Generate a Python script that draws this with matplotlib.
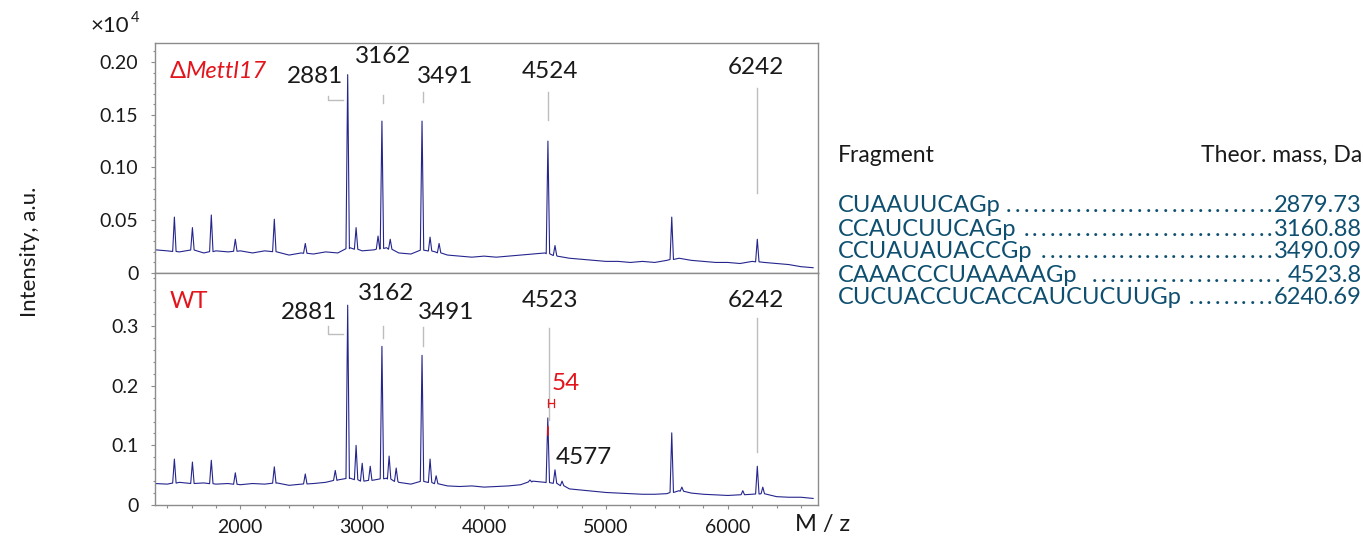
import numpy as np
import matplotlib.pyplot as plt
from matplotlib.ticker import MultipleLocator

plt.rcParams['font.family'] = ['Lato', 'DejaVu Sans']

base_mz = list(range(1300, 6800, 100))
base_ko = [0.022, 0.021, 0.020, 0.022, 0.019, 0.021, 0.020, 0.021, 0.019, 0.021,
           0.020, 0.017, 0.019, 0.018, 0.020, 0.019, 0.024, 0.021, 0.022, 0.024,
           0.019, 0.018, 0.022, 0.020, 0.017, 0.016, 0.015, 0.016, 0.015, 0.016,
           0.017, 0.018, 0.019, 0.016, 0.014, 0.013, 0.012, 0.011, 0.011, 0.010,
           0.011, 0.010, 0.012, 0.014, 0.012, 0.011, 0.010, 0.010, 0.009, 0.011,
           0.010, 0.009, 0.008, 0.006, 0.005]
base_wt = [0.036, 0.035, 0.038, 0.036, 0.037, 0.035, 0.036, 0.034, 0.036, 0.035,
           0.037, 0.033, 0.035, 0.036, 0.038, 0.042, 0.045, 0.040, 0.042, 0.045,
           0.038, 0.035, 0.040, 0.036, 0.032, 0.031, 0.032, 0.030, 0.031, 0.032,
           0.034, 0.040, 0.038, 0.036, 0.027, 0.025, 0.023, 0.021, 0.020, 0.019,
           0.018, 0.018, 0.019, 0.024, 0.020, 0.018, 0.017, 0.016, 0.017, 0.018,
           0.019, 0.014, 0.013, 0.013, 0.011]

# peaks (m/z, intensity x10^4)
peaks_ko_mz = [1459, 1607, 1762, 1959, 2279, 2533, 2881, 2950, 3130, 3162, 3230,
               3491, 3557, 3631, 4524, 4582, 5540, 6242]
peaks_ko_h = [0.053, 0.043, 0.055, 0.032, 0.051, 0.028, 0.188, 0.043, 0.035, 0.144,
              0.032, 0.144, 0.034, 0.028, 0.125, 0.026, 0.053, 0.032]
peaks_wt_mz = [1459, 1607, 1762, 1959, 2279, 2533, 2779, 2881, 2950, 3000, 3066,
               3162, 3221, 3279, 3491, 3557, 3607, 4377, 4523, 4582, 4640, 5540,
               5623, 6123, 6242, 6287]
peaks_wt_h = [0.077, 0.072, 0.075, 0.054, 0.064, 0.052, 0.058, 0.335, 0.100, 0.070,
              0.065, 0.266, 0.082, 0.062, 0.251, 0.077, 0.049, 0.042, 0.146, 0.059,
              0.040, 0.121, 0.030, 0.024, 0.065, 0.030]

labels_ko = ['2881', '3162', '3491', '4524', '6242']
labels_wt = ['2881', '3162', '3491', '4523', '6242']

fragments = ['CUAAUUCAGp', 'CCAUCUUCAGp', 'CCUAUAUACCGp', 'CAAACCCUAAAAAGp',
             'CUCUACCUCACCAUCUCUUGp']
masses = ['2879.73', '3160.88', '3490.09', '4523.8', '6240.69']

W, H = 1363, 538
LINE = '#25258e'
GRAY = '#8c8c8c'
ANN = '#bdbdbd'
RED = '#e3141b'
BLUE = '#0e4f70'
INK = '#1a1a1a'


def fx(px):
    return px / W


def fy(py):
    return 1 - py / H


def trace(bvals, pmz, ph, half=14):
    bx = np.array(base_mz, float)
    by = np.array(bvals, float)
    keep = [all(abs(x - m) > half for m in pmz) for x in bx]
    xs = list(bx[keep])
    ys = list(by[keep])
    for m, h in zip(pmz, ph):
        foot = np.interp(m, bx, by)
        xs += [m - half, m, m + half]
        ys += [foot, h, foot]
    order = np.argsort(xs, kind='stable')
    return np.array(xs)[order], np.array(ys)[order]


fig = plt.figure(figsize=(W / 100, H / 100), dpi=100)
ax1 = fig.add_axes([fx(155), 1 - 273 / H, 663 / W, 230 / H])
ax2 = fig.add_axes([fx(155), 1 - 505 / H, 663 / W, 232 / H])

x, y = trace(base_ko, peaks_ko_mz, peaks_ko_h)
ax1.plot(x, y, color=LINE, lw=0.8)
x, y = trace(base_wt, peaks_wt_mz, peaks_wt_h)
ax2.plot(x, y, color=LINE, lw=0.8)

for ax in (ax1, ax2):
    ax.set_xlim(1300, 6740)
    for s in ax.spines.values():
        s.set_color(GRAY)
        s.set_linewidth(1.0)
    ax.tick_params(which='both', direction='out', color=GRAY, width=0.8,
                   labelsize=14, labelcolor=INK)
    ax.tick_params(which='major', length=3, pad=9)
    ax.tick_params(which='minor', length=1.8)
    ax.xaxis.set_major_locator(MultipleLocator(1000))
    ax.xaxis.set_minor_locator(MultipleLocator(200))

ax1.set_ylim(0, 0.218)
ax1.set_yticks([0, 0.05, 0.10, 0.15, 0.20])
ax1.set_yticklabels(['0', '0.05', '0.10', '0.15', '0.20'])
ax1.yaxis.set_minor_locator(MultipleLocator(0.01))
ax1.tick_params(axis='x', which='both', bottom=False, labelbottom=False)

ax2.set_ylim(0, 0.389)
ax2.set_yticks([0, 0.1, 0.2, 0.3])
ax2.set_yticklabels(['0', '0.1', '0.2', '0.3'])
ax2.yaxis.set_minor_locator(MultipleLocator(0.02))
ax2.set_xticks([2000, 3000, 4000, 5000, 6000])
ax2.set_xticklabels(['2000', '3000', '4000', '5000', '6000'])
ax2.tick_params(axis='x', which='major', pad=7)

# peak annotations
afs = 17.5
# top panel
ax1.text(2846, 0.186, labels_ko[0], ha='right', va='center', fontsize=afs, color=INK)
ax1.plot([2721, 2721, 2844], [0.168, 0.164, 0.164], color=ANN, lw=1)
ax1.text(3172, 0.205, labels_ko[1], ha='center', va='center', fontsize=afs, color=INK)
ax1.plot([3172, 3172], [0.169, 0.161], color=ANN, lw=1)
ax1.text(3680, 0.186, labels_ko[2], ha='center', va='center', fontsize=afs, color=INK)
ax1.plot([3500, 3500], [0.172, 0.162], color=ANN, lw=1)
ax1.text(4541, 0.191, labels_ko[3], ha='center', va='center', fontsize=afs, color=INK)
ax1.plot([4525, 4525], [0.172, 0.145], color=ANN, lw=1)
ax1.text(6230, 0.195, labels_ko[4], ha='center', va='center', fontsize=afs, color=INK)
ax1.plot([6238, 6238], [0.175, 0.076], color=ANN, lw=1)
ax1.text(0.022, 0.874, '\u0394', color=RED, fontsize=17, transform=ax1.transAxes,
         va='center', ha='left')
ax1.text(0.047, 0.874, 'Mettl17', color=RED, fontsize=17, style='italic',
         transform=ax1.transAxes, va='center', ha='left')

# bottom panel
ax2.text(2797, 0.322, labels_wt[0], ha='right', va='center', fontsize=afs, color=INK)
ax2.plot([2721, 2721, 2844], [0.300, 0.286, 0.286], color=ANN, lw=1)
ax2.text(3197, 0.355, labels_wt[1], ha='center', va='center', fontsize=afs, color=INK)
ax2.plot([3172, 3172], [0.300, 0.280], color=ANN, lw=1)
ax2.text(3689, 0.323, labels_wt[2], ha='center', va='center', fontsize=afs, color=INK)
ax2.plot([3500, 3500], [0.298, 0.266], color=ANN, lw=1)
ax2.text(4541, 0.343, labels_wt[3], ha='center', va='center', fontsize=afs, color=INK)
ax2.plot([4533, 4533], [0.296, 0.142], color=ANN, lw=1)
ax2.text(6230, 0.343, labels_wt[4], ha='center', va='center', fontsize=afs, color=INK)
ax2.plot([6238, 6238], [0.313, 0.089], color=ANN, lw=1)
ax2.text(4590, 0.080, '4577', ha='left', va='center', fontsize=afs, color=INK)
ax2.text(4558, 0.204, '54', ha='left', va='center', fontsize=afs, color=RED)
ax2.plot([4523, 4577], [0.171, 0.171], color=RED, lw=0.9)
ax2.plot([4523, 4523], [0.165, 0.177], color=RED, lw=0.9)
ax2.plot([4577, 4577], [0.165, 0.177], color=RED, lw=0.9)
ax2.plot([4521, 4521], [0.13, 0.118], color=RED, lw=1.2)
ax2.text(0.022, 0.875, 'WT', color=RED, fontsize=17, transform=ax2.transAxes,
         va='center', ha='left')

# axis labels
fig.text(fx(30), fy(252), 'Intensity, a.u.', rotation=90, ha='center', va='center',
         fontsize=16, color=INK)
fig.text(fx(91), fy(26), '\u00d710', ha='left', va='center', fontsize=16, color=INK)
fig.text(fx(131), fy(18), '4', ha='left', va='center', fontsize=10.5, color=INK)
fig.text(fx(823), fy(524), 'M / z', ha='center', va='center', fontsize=17, color=INK)

# fragment table
tfs = 17
hfs = 16.5
fig.text(fx(838), fy(155), 'Fragment', ha='left', va='center', fontsize=hfs, color=INK)
fig.text(fx(1362), fy(155), 'Theor. mass, Da', ha='right', va='center', fontsize=hfs,
         color=INK)

fig.canvas.draw()
r = fig.canvas.get_renderer()
pitch = 8.7
row_y = [206, 229, 252, 275, 298]
for i, (frag, m) in enumerate(zip(fragments, masses)):
    yy = fy(row_y[i])
    t1 = fig.text(fx(838), yy, frag, ha='left', va='center', fontsize=tfs, color=BLUE)
    t2 = fig.text(fx(1362), yy, m, ha='right', va='center', fontsize=tfs, color=BLUE)
    e1 = t1.get_window_extent(r)
    e2 = t2.get_window_extent(r)
    pad = 9 if i == 3 else 3
    xd = e2.x0 - pad - 4
    while xd > e1.x1 + pad:
        fig.text(xd / W, yy, '.', ha='left', va='center', fontsize=tfs, color=BLUE)
        xd -= pitch

fig.savefig('out.png', dpi=100)
